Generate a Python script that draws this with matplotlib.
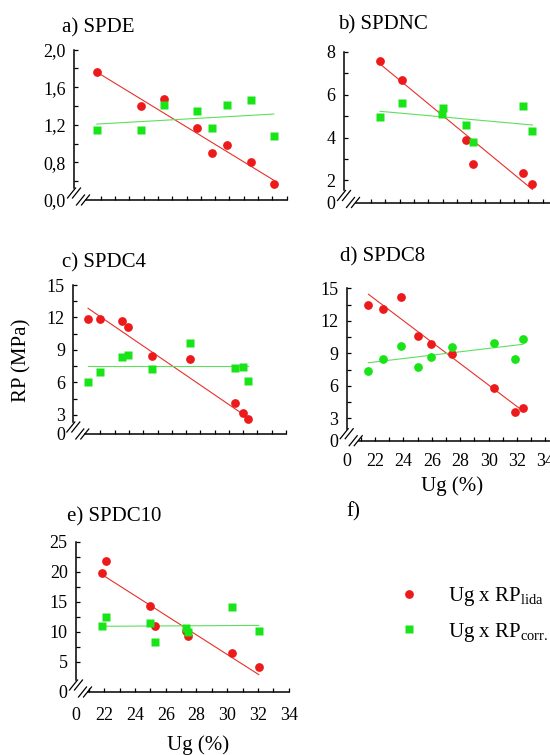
import numpy as np
import matplotlib.pyplot as plt
from matplotlib.lines import Line2D

plt.rcParams['font.family'] = 'Liberation Serif'
plt.rcParams['mathtext.fontset'] = 'custom'
plt.rcParams['mathtext.rm'] = 'Liberation Serif'

RED = '#ec1a1a'
GREEN = '#18e418'
RED_LINE = '#e8302a'
GREEN_LINE = '#5ee05e'

# a) SPDE
ug_a = [20.72, 23.82, 25.45, 27.73, 28.76, 29.85, 31.49, 33.10]
lida_a = [1.76, 1.40, 1.47, 1.165, 0.90, 0.985, 0.80, 0.57]
corr_a = [1.14, 1.14, 1.405, 1.345, 1.165, 1.405, 1.465, 1.08]
fit_lida_a = [1.76, 0.61]
fit_corr_a = [1.207, 1.314]

# b) SPDNC
ug_b = [21.63, 23.15, 26.06, 25.99, 27.64, 28.15, 31.60, 32.28]
lida_b = [7.59, 6.69, np.nan, np.nan, 3.87, 2.78, 2.35, 1.83]
corr_b = [4.98, 5.60, 5.38, 5.09, 4.57, 3.78, 5.48, 4.32]
fit_lida_b = [7.44, 1.58]
fit_corr_b = [5.23, 4.59]

# c) SPDC4
ug_c = [20.13, 20.94, 22.48, 22.92, 24.60, 27.31, 30.43, 30.97, 31.34]
lida_c = [11.89, 11.89, 11.70, 11.15, 8.44, 8.19, 4.10, 3.18, 2.65]
corr_c = [6.04, 6.99, 8.35, 8.51, 7.22, 9.64, 7.36, 7.46, 6.11]
fit_lida_c = [12.85, 2.75]
fit_corr_c = [7.49, 7.49]

# d) SPDC8
ug_d = [21.53, 22.58, 23.81, 25.01, 25.94, 27.44, 30.36, 31.88, 32.42]
lida_d = [13.46, 13.09, 14.22, 10.60, 9.83, 8.93, 5.82, 3.55, 3.95]
corr_d = [7.39, 8.47, 9.64, 7.76, 8.66, 9.61, 9.92, 8.50, 10.29]
fit_lida_d = [14.45, 3.67]
fit_corr_d = [8.13, 9.83]

# e) SPDC10
ug_e = [21.83, 22.11, 24.97, 25.31, 27.29, 27.42, 30.34, 32.05]
lida_e = [19.8, 21.9, 14.4, 11.0, 10.2, 9.4, 6.5, 4.1]
corr_e = [11.0, 12.5, 11.5, 8.3, 10.6, 10.0, 14.2, 10.1]
fit_lida_e = [19.6, 2.9]
fit_corr_e = [10.95, 11.1]

x_even = [22, 24, 26, 28, 30, 32, 34]
x_odd = [21, 23, 25, 27, 29, 31, 33]

W, H = 550, 755
fig = plt.figure(figsize=(W / 100, H / 100), dpi=100)

MS_CIRCLE = 6.3
MS_SQUARE = 5.2


def px_rect(left, right, top, bottom):
    return [left / W, 1 - bottom / H, (right - left) / W, (bottom - top) / H]


def panel(rect, ug, lida, corr, fit_lida, fit_corr, xlim, ylim,
          yticks, ylabels, yminor, xlabels=False, corr_marker='s', xpad=8.5):
    ax = fig.add_axes(rect)
    ax.set_xlim(*xlim)
    ax.set_ylim(*ylim)
    ug = np.array(ug, dtype=float)
    xs = [ug.min(), ug.max()]
    ax.plot(ug, lida, 'o', color=RED, ms=MS_CIRCLE, mec='none', zorder=3)
    if corr_marker == 's':
        ax.plot(ug, corr, 's', color=GREEN, ms=MS_SQUARE, mec='none', zorder=4)
    else:
        ax.plot(ug, corr, 'o', color=GREEN, ms=MS_CIRCLE, mec='none', zorder=4)
    ax.plot(xs, fit_lida, color=RED_LINE, lw=0.8, zorder=2)
    ax.plot(xs, fit_corr, color=GREEN_LINE, lw=0.8, zorder=2)

    for s in ['top', 'right']:
        ax.spines[s].set_visible(False)
    for s in ['left', 'bottom']:
        ax.spines[s].set_linewidth(1.1)
    w_px = rect[2] * W
    h_px = rect[3] * H
    ax.spines['left'].set_bounds(ylim[0] + 12 / h_px * (ylim[1] - ylim[0]), ylim[1])
    ax.spines['bottom'].set_bounds(xlim[0] + 12 / w_px * (xlim[1] - xlim[0]), xlim[1])

    ax.set_yticks([ylim[0]] + yticks, labels=ylabels)
    ax.set_yticks(yminor, minor=True)
    if xlabels:
        ax.set_xticks([xlim[0]] + x_even, labels=['0'] + [str(v) for v in x_even])
    else:
        ax.set_xticks([xlim[0]] + x_even, labels=[''] * (len(x_even) + 1))
    ax.set_xticks(x_odd, minor=True)
    ax.tick_params(which='both', direction='in', length=2.8, width=0.9, labelsize=13)
    ax.tick_params(axis='y', which='both', pad=6)
    ax.tick_params(axis='x', which='both', pad=xpad)
    ax.yaxis.get_major_ticks()[0].tick1line.set_visible(False)
    ax.xaxis.get_major_ticks()[0].tick1line.set_visible(False)

    # break marks at the corner
    kw = dict(transform=ax.transAxes, color='k', lw=0.9, clip_on=False)
    for cx, cy in [(-2.5, 7), (2.5, 7), (6.5, 0), (11.5, 0)]:
        ax.plot([(cx - 4) / w_px, (cx + 4) / w_px], [(cy - 5) / h_px, (cy + 5) / h_px], **kw)
    return ax


panel(px_rect(74, 286.7, 49.5, 200), ug_a, lida_a, corr_a, fit_lida_a, fit_corr_a,
      (19.13, 34.0), (0.4, 2.0), [0.8, 1.2, 1.6, 2.0],
      ['0,0', '0,8', '1,2', '1,6', '2,0'], [0.6, 1.0, 1.4, 1.8])

panel(px_rect(344, 557, 52, 202.5), ug_b, lida_b, corr_b, fit_lida_b, fit_corr_b,
      (19.11, 34.0), (0.97, 8.0), [2, 4, 6, 8],
      ['0', '2', '4', '6', '8'], [3, 5, 7])

panel(px_rect(73.3, 286, 285, 434), ug_c, lida_c, corr_c, fit_lida_c, fit_corr_c,
      (19.1, 34.0), (1.24, 15), [3, 6, 9, 12, 15],
      ['0', '3', '6', '9', '12', '15'], [4.5, 7.5, 10.5, 13.5])

panel(px_rect(346.7, 552.5, 288.3, 440.7), ug_d, lida_d, corr_d, fit_lida_d, fit_corr_d,
      (20.0, 34.5), (0.93, 15), [3, 6, 9, 12, 15],
      ['0', '3', '6', '9', '12', '15'], [4.5, 7.5, 10.5, 13.5],
      xlabels=True, corr_marker='o', xpad=8.6)

panel(px_rect(76, 288.7, 542, 692), ug_e, lida_e, corr_e, fit_lida_e, fit_corr_e,
      (20.16, 34.0), (0, 25), [5, 10, 15, 20, 25],
      ['0', '5', '10', '15', '20', '25'], [7.5, 12.5, 17.5, 22.5],
      xlabels=True, xpad=11)

titles = ['a) SPDE', 'b) SPDNC', 'c) SPDC4', 'd) SPDC8', 'e) SPDC10', 'f)']
title_pos = [(62, 32.5), (338, 29.5), (61.7, 267.7), (340, 261), (66.7, 521), (346.7, 516)]
for t, (x, y) in zip(titles, title_pos):
    fig.text(x / W, 1 - y / H, t, fontsize=15, ha='left', va='baseline')

fig.text(22 / W, 1 - 360 / H, 'RP (MPa)', rotation=90, fontsize=15, ha='center', va='center')
fig.text(452 / W, 1 - 486 / H, 'Ug (%)', fontsize=15, ha='center', va='center')
fig.text(198 / W, 1 - 745 / H, 'Ug (%)', fontsize=15, ha='center', va='center')

handles = [Line2D([], [], ls='none', marker='o', color=RED, ms=MS_CIRCLE, mec='none'),
           Line2D([], [], ls='none', marker='s', color=GREEN, ms=MS_SQUARE, mec='none')]
labels = [r'Ug x RP$_{\mathrm{lida}}$', r'Ug x RP$_{\mathrm{corr.}}$']
fig.legend(handles, labels, loc='upper left', bbox_to_anchor=(399 / W, 1 - 585 / H),
           frameon=False, fontsize=15, handlelength=1.0, handletextpad=1.33,
           labelspacing=0.6, borderpad=0, borderaxespad=0)

fig.savefig('out.png', dpi=100)
